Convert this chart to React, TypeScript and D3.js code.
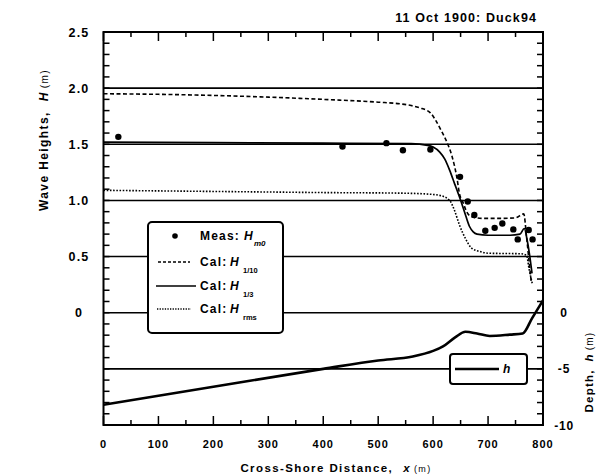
import React from 'react';
import * as d3 from 'd3';

// Cross-shore distance (m) and computed wave heights (m)
const h110Dist = [0, 100, 200, 300, 400, 500, 540, 560, 575, 595, 605, 615, 625, 634, 643, 648, 655, 660, 670, 690, 720, 750, 765, 770, 775, 779];
const h110Val = [1.95, 1.945, 1.935, 1.92, 1.9, 1.875, 1.86, 1.845, 1.825, 1.78, 1.71, 1.62, 1.52, 1.4, 1.21, 1.06, 0.975, 0.91, 0.855, 0.84, 0.84, 0.845, 0.88, 0.68, 0.44, 0.26];

const h13Dist = [0, 200, 400, 560, 590, 600, 612, 621, 630, 639, 648, 657, 666, 673, 680, 700, 740, 758, 766, 771, 776, 780];
const h13Val = [1.52, 1.515, 1.51, 1.505, 1.49, 1.475, 1.43, 1.37, 1.27, 1.15, 1.03, 0.9, 0.77, 0.72, 0.7, 0.69, 0.69, 0.7, 0.75, 0.65, 0.5, 0.35];

const hrmsDist = [0, 100, 200, 300, 400, 540, 595, 612, 630, 639, 648, 660, 670, 685, 700, 760, 770, 775, 781];
const hrmsVal = [1.09, 1.085, 1.08, 1.075, 1.07, 1.065, 1.055, 1.045, 1.0, 0.91, 0.78, 0.65, 0.575, 0.545, 0.53, 0.525, 0.51, 0.38, 0.25];

// Measured Hm0
const measDist = [27, 435, 515, 545, 595, 649, 663, 675, 695, 712, 726, 746, 754, 774, 781];
const measVal = [1.566, 1.48, 1.51, 1.447, 1.454, 1.21, 0.99, 0.87, 0.73, 0.756, 0.795, 0.742, 0.653, 0.736, 0.653];

// Bathymetry: depth h (m)
const depthDist = [0, 200, 400, 500, 563, 600, 618, 640, 659, 680, 703, 740, 763, 780, 800];
const depthVal = [-8.2, -6.6, -5.0, -4.25, -3.9, -3.4, -3.0, -2.2, -1.7, -1.85, -2.07, -1.95, -1.85, -0.5, 1.1];

// Axis ticks
const xTicks = [0, 100, 200, 300, 400, 500, 600, 700, 800];
const xTickLabels = ['0', '100', '200', '300', '400', '500', '600', '700', '800'];
const hTicks = [0, 0.5, 1.0, 1.5, 2.0, 2.5];
const hTickLabels = ['0', '0.5', '1.0', '1.5', '2.0', '2.5'];
const gridVals = [-0.5, 0, 0.5, 1.0, 1.5, 2.0];
const depthTicks = [0, -5, -10];
const depthTickLabels = ['0', '-5', '-10'];

const FONT = '"Liberation Sans", Arial, Helvetica, sans-serif';

export default function App() {
  const left = 103.5, right = 543, top = 32, bottom = 425;
  const x = d3.scaleLinear().domain([0, 800]).range([left, right]);
  const y = d3.scaleLinear().domain([-1, 2.5]).range([bottom, top]);
  // depth axis shares the frame: 1 m of depth = 0.1 m of wave height
  const yd = d3.scaleLinear().domain([-10, 25]).range([bottom, top]);

  const lineH = (xs: number[], vs: number[]) =>
    d3.line<number>().x((_, i) => x(xs[i])).y((v) => y(v)).curve(d3.curveMonotoneX)(vs) || '';
  const lineD = d3.line<number>().x((_, i) => x(depthDist[i])).y((v) => yd(v)).curve(d3.curveMonotoneX)(depthVal) || '';

  const minorH = d3.range(-10, 26).map((k) => k / 10);
  const minorX = d3.range(0, 801, 50);

  const textStyle = { fontFamily: FONT, fontWeight: 700, fill: '#000' } as const;

  return (
    <svg width={598} height={475} style={{ position: 'absolute', left: 0, top: 0, background: '#fff' }}>
      <defs>
        <clipPath id="plotClip">
          <rect x={left} y={top} width={right - left} height={bottom - top} />
        </clipPath>
      </defs>

      {/* gridlines */}
      {gridVals.map((v) => (
        <line key={'g' + v} x1={left} x2={right} y1={y(v)} y2={y(v)} stroke="#000" strokeWidth={1.6} />
      ))}

      <g clipPath="url(#plotClip)">
        {/* depth profile */}
        <path d={lineD} fill="none" stroke="#000" strokeWidth={2.6} strokeLinejoin="round" />
        {/* computed heights */}
        <path d={lineH(h110Dist, h110Val)} fill="none" stroke="#000" strokeWidth={1.6} strokeDasharray="4 2.5" />
        <path d={lineH(h13Dist, h13Val)} fill="none" stroke="#000" strokeWidth={1.7} />
        <path d={lineH(hrmsDist, hrmsVal)} fill="none" stroke="#000" strokeWidth={1.6} strokeDasharray="1.6 1.6" />
        {/* measurements */}
        {measVal.map((v, i) => (
          <circle key={'m' + i} cx={x(measDist[i])} cy={y(v)} r={3.2} fill="#000" />
        ))}
      </g>

      {/* ticks on left and right */}
      {minorH.map((v, i) => (
        <g key={'t' + i}>
          <line x1={left} x2={left + 6} y1={y(v)} y2={y(v)} stroke="#000" strokeWidth={1.5} />
          <line x1={right} x2={right - 6} y1={y(v)} y2={y(v)} stroke="#000" strokeWidth={1.5} />
        </g>
      ))}
      {/* ticks on top and bottom */}
      {minorX.map((v) => {
        const major = v % 100 === 0;
        return (
          <g key={'xt' + v}>
            <line x1={x(v)} x2={x(v)} y1={bottom} y2={bottom - (major ? 9 : 5)} stroke="#000" strokeWidth={1.5} />
            <line x1={x(v)} x2={x(v)} y1={top} y2={top + (major ? 9 : 5)} stroke="#000" strokeWidth={1.5} />
          </g>
        );
      })}

      {/* frame */}
      <rect x={left} y={top} width={right - left} height={bottom - top} fill="none" stroke="#000" strokeWidth={2} />

      {/* legend for wave heights */}
      <g>
        <rect x={148} y={222} width={135} height={111} rx={4} fill="#fff" stroke="#000" strokeWidth={2} />
        <circle cx={175} cy={236} r={2.8} fill="#000" />
        <text x={200} y={240} fontSize={12} letterSpacing={1.2} style={textStyle}>
          Meas:
        </text>
        <text x={244} y={240} fontSize={12} fontStyle="italic" style={textStyle}>H</text>
        <text x={254} y={246} fontSize={8} fontStyle="italic" style={textStyle}>m0</text>

        <line x1={158} x2={190} y1={262} y2={262} stroke="#000" strokeWidth={1.3} strokeDasharray="3 2" />
        <text x={200} y={266} fontSize={12} letterSpacing={1.2} style={textStyle}>Cal:</text>
        <text x={230} y={266} fontSize={12} fontStyle="italic" style={textStyle}>H</text>
        <text x={243} y={273} fontSize={7.5} style={textStyle}>1/10</text>

        <line x1={156} x2={196} y1={286} y2={286} stroke="#000" strokeWidth={1.7} />
        <text x={200} y={290} fontSize={12} letterSpacing={1.2} style={textStyle}>Cal:</text>
        <text x={230} y={290} fontSize={12} fontStyle="italic" style={textStyle}>H</text>
        <text x={243} y={297} fontSize={7.5} style={textStyle}>1/3</text>

        <line x1={157} x2={191} y1={309} y2={309} stroke="#000" strokeWidth={1.3} strokeDasharray="1.3 1.3" />
        <text x={200} y={313} fontSize={12} letterSpacing={1.2} style={textStyle}>Cal:</text>
        <text x={230} y={313} fontSize={12} fontStyle="italic" style={textStyle}>H</text>
        <text x={243} y={320} fontSize={7.5} style={textStyle}>rms</text>
      </g>

      {/* legend for depth */}
      <g>
        <rect x={450} y={354} width={77} height={30} rx={3} fill="#fff" stroke="#000" strokeWidth={2} />
        <line x1={455} x2={499} y1={369} y2={369} stroke="#000" strokeWidth={2.6} />
        <text x={503} y={373} fontSize={12} fontStyle="italic" style={textStyle}>h</text>
      </g>

      {/* left tick labels */}
      {hTicks.map((v, i) => (
        <text key={'hl' + v} x={79} y={y(v) + 4.5} fontSize={12.5} letterSpacing={1.2} textAnchor="middle" style={textStyle}>
          {hTickLabels[i]}
        </text>
      ))}
      {/* right tick labels */}
      {depthTicks.map((v, i) => (
        <text key={'dl' + v} x={564} y={yd(v) + 4.5} fontSize={12} letterSpacing={0.8} textAnchor="middle" style={textStyle}>
          {depthTickLabels[i]}
        </text>
      ))}
      {/* bottom tick labels */}
      {xTicks.map((v, i) => (
        <text key={'xl' + v} x={x(v)} y={447.5} fontSize={11} letterSpacing={1} textAnchor="middle" style={textStyle}>
          {xTickLabels[i]}
        </text>
      ))}

      {/* title */}
      <text x={537} y={22} fontSize={12.5} letterSpacing={1.1} textAnchor="end" style={textStyle}>
        11 Oct 1900: Duck94
      </text>

      {/* x axis title */}
      <text x={336} y={472} fontSize={11.5} letterSpacing={1.4} textAnchor="middle" style={textStyle}>
        Cross-Shore Distance,
        <tspan dx={10} fontStyle="italic">x</tspan>
        <tspan dx={3} fontSize={9} fontWeight={400}>(m)</tspan>
      </text>

      {/* left axis title */}
      <text transform="translate(48,140) rotate(-90)" fontSize={12} letterSpacing={1.4} textAnchor="middle" style={textStyle}>
        Wave Heights,
        <tspan dx={10} fontStyle="italic">H</tspan>
        <tspan dx={3} fontSize={10} fontWeight={400}>(m)</tspan>
      </text>

      {/* right axis title */}
      <text transform="translate(593,372) rotate(-90)" fontSize={11.5} letterSpacing={1.2} textAnchor="middle" style={textStyle}>
        Depth,
        <tspan dx={8} fontStyle="italic">h</tspan>
        <tspan dx={3} fontSize={10} fontWeight={400}>(m)</tspan>
      </text>
    </svg>
  );
}
